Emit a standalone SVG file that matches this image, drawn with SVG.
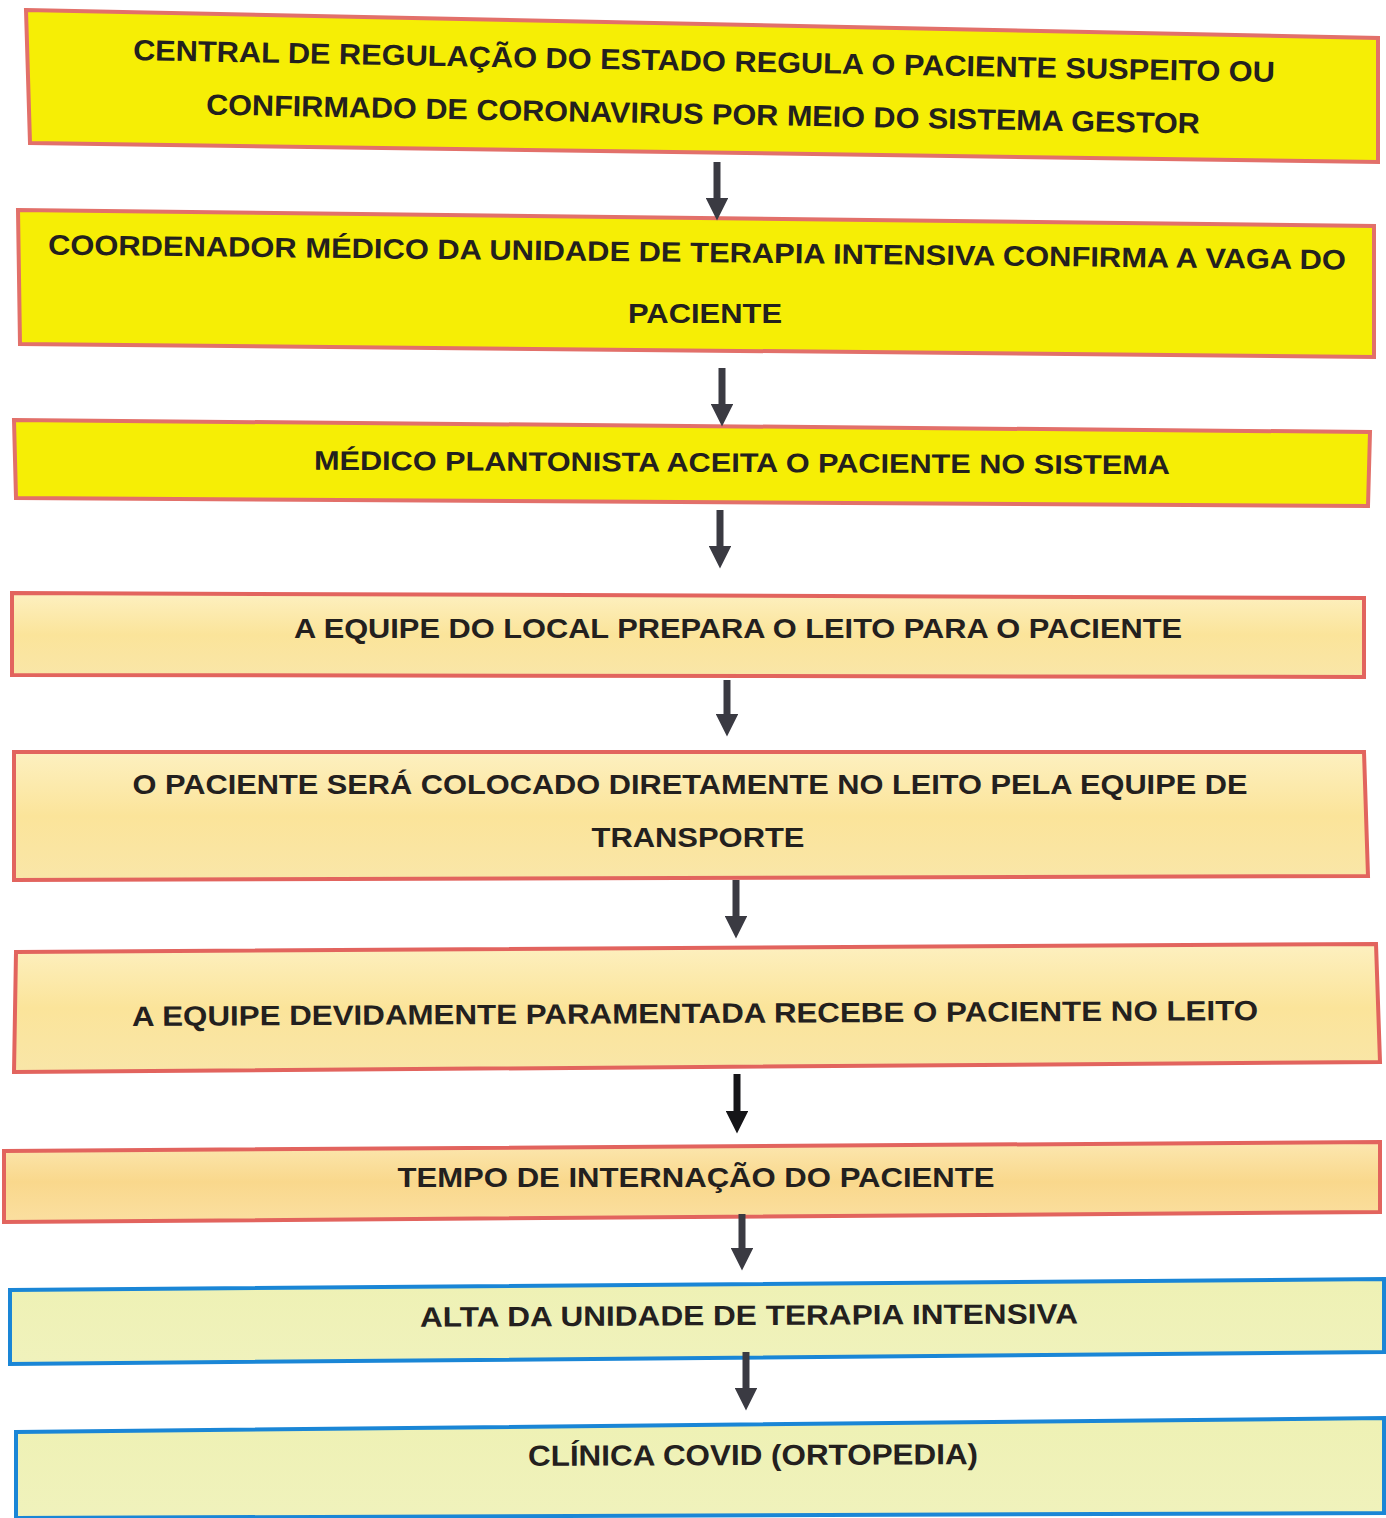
<svg xmlns="http://www.w3.org/2000/svg" width="1386" height="1518" viewBox="0 0 1386 1518">
  <defs>
    <linearGradient id="gPeach" x1="0" y1="0" x2="0" y2="1">
      <stop offset="0" stop-color="#fdf0c0"/>
      <stop offset="0.5" stop-color="#fbe49a"/>
      <stop offset="1" stop-color="#f9e6a8"/>
    </linearGradient>
    <linearGradient id="gOrange" x1="0" y1="0" x2="0" y2="1">
      <stop offset="0" stop-color="#fce7b0"/>
      <stop offset="0.5" stop-color="#f9d88c"/>
      <stop offset="1" stop-color="#fbdfa0"/>
    </linearGradient>
    <linearGradient id="gGreen" x1="0" y1="0" x2="0" y2="1">
      <stop offset="0" stop-color="#eef1b4"/>
      <stop offset="1" stop-color="#f0f2bc"/>
    </linearGradient>
    <marker id="head" viewBox="0 0 10 10" refX="0" refY="5" markerWidth="3.4" markerHeight="3.2" orient="auto" markerUnits="strokeWidth">
      <path d="M0,0 L10,5 L0,10 Z" fill="#3a3a42"/>
    </marker>
    <marker id="headDark" viewBox="0 0 10 10" refX="0" refY="5" markerWidth="3.4" markerHeight="3.2" orient="auto" markerUnits="strokeWidth">
      <path d="M0,0 L10,5 L0,10 Z" fill="#151518"/>
    </marker>
  </defs>
  <style>
    .yellow { fill: #f6ee05; stroke: #e2706a; stroke-width: 4; }
    .peach { fill: url(#gPeach); stroke: #e2645e; stroke-width: 4; }
    .orange { fill: url(#gOrange); stroke: #e2645e; stroke-width: 4; }
    .green { fill: url(#gGreen); stroke: #1a86d6; stroke-width: 4; }
    .t { font-family: "Liberation Sans", Arial, sans-serif; font-weight: bold; fill: #23201e; text-anchor: middle; }
    .arrow { stroke: #3a3a42; stroke-width: 7; fill: none; }
  </style>

  <g id="node1">
    <polygon class="yellow" points="26,10 1378,38 1378,162 30,143"/>
    <text class="t" font-size="29" x="704" y="71" transform="rotate(1.1 704 61)" textLength="1142" lengthAdjust="spacingAndGlyphs">CENTRAL DE REGULAÇÃO DO ESTADO REGULA O PACIENTE SUSPEITO OU</text>
    <text class="t" font-size="29" x="703" y="124" transform="rotate(1.1 703 114)" textLength="994" lengthAdjust="spacingAndGlyphs">CONFIRMADO DE CORONAVIRUS POR MEIO DO SISTEMA GESTOR</text>
  </g>

  <g id="node2">
    <polygon class="yellow" points="18,210 1374,226 1374,357 20,344"/>
    <text class="t" font-size="28" x="697" y="262" transform="rotate(0.66 697 252)" textLength="1298" lengthAdjust="spacingAndGlyphs">COORDENADOR MÉDICO DA UNIDADE DE TERAPIA INTENSIVA CONFIRMA A VAGA DO</text>
    <text class="t" font-size="28" x="705" y="323" textLength="154" lengthAdjust="spacingAndGlyphs">PACIENTE</text>
  </g>

  <g id="node3">
    <polygon class="yellow" points="14,420 1370,432 1368,506 16,498"/>
    <text class="t" font-size="27" x="742" y="472" transform="rotate(0.3 742 462)" textLength="856" lengthAdjust="spacingAndGlyphs">MÉDICO PLANTONISTA ACEITA O PACIENTE NO SISTEMA</text>
  </g>

  <g id="node4">
    <polygon class="peach" points="12,593 1364,598 1364,677 12,675"/>
    <text class="t" font-size="27" x="738" y="638" textLength="888" lengthAdjust="spacingAndGlyphs">A EQUIPE DO LOCAL PREPARA O LEITO PARA O PACIENTE</text>
  </g>

  <g id="node5">
    <polygon class="peach" points="14,752 1364,752 1368,876 14,880"/>
    <text class="t" font-size="27" x="690" y="794" textLength="1115" lengthAdjust="spacingAndGlyphs">O PACIENTE SERÁ COLOCADO DIRETAMENTE NO LEITO PELA EQUIPE DE</text>
    <text class="t" font-size="27" x="698" y="847" textLength="213" lengthAdjust="spacingAndGlyphs">TRANSPORTE</text>
  </g>

  <g id="node6">
    <polygon class="peach" points="16,952 1376,944 1380,1062 14,1072"/>
    <text class="t" font-size="28" x="695" y="1023" transform="rotate(-0.3 695 1013)" textLength="1126" lengthAdjust="spacingAndGlyphs">A EQUIPE DEVIDAMENTE PARAMENTADA RECEBE O PACIENTE NO LEITO</text>
  </g>

  <g id="node7">
    <polygon class="orange" points="4,1151 1380,1142 1380,1212 4,1222"/>
    <text class="t" font-size="28" x="696" y="1187" textLength="597" lengthAdjust="spacingAndGlyphs">TEMPO DE INTERNAÇÃO DO PACIENTE</text>
  </g>

  <g id="node8">
    <polygon class="green" points="10,1290 1384,1279 1384,1352 10,1364"/>
    <text class="t" font-size="28" x="749" y="1325" transform="rotate(-0.3 749 1315)" textLength="658" lengthAdjust="spacingAndGlyphs">ALTA DA UNIDADE DE TERAPIA INTENSIVA</text>
  </g>

  <g id="node9">
    <polygon class="green" points="16,1432 1384,1418 1384,1513 16,1518"/>
    <text class="t" font-size="29" x="753" y="1465" transform="rotate(-0.2 753 1455)" textLength="450" lengthAdjust="spacingAndGlyphs">CLÍNICA COVID (ORTOPEDIA)</text>
  </g>

  <g id="connectors">
    <line class="arrow" x1="717" y1="162" x2="717" y2="198" marker-end="url(#head)"/>
    <line class="arrow" x1="722" y1="368" x2="722" y2="404" marker-end="url(#head)"/>
    <line class="arrow" x1="720" y1="510" x2="720" y2="546" marker-end="url(#head)"/>
    <line class="arrow" x1="727" y1="680" x2="727" y2="714" marker-end="url(#head)"/>
    <line class="arrow" x1="736" y1="880" x2="736" y2="916" marker-end="url(#head)"/>
    <line class="arrow" x1="737" y1="1074" x2="737" y2="1111" marker-end="url(#headDark)" style="stroke:#151518"/>
    <line class="arrow" x1="742" y1="1214" x2="742" y2="1248" marker-end="url(#head)"/>
    <line class="arrow" x1="746" y1="1352" x2="746" y2="1388" marker-end="url(#head)"/>
  </g>
</svg>
